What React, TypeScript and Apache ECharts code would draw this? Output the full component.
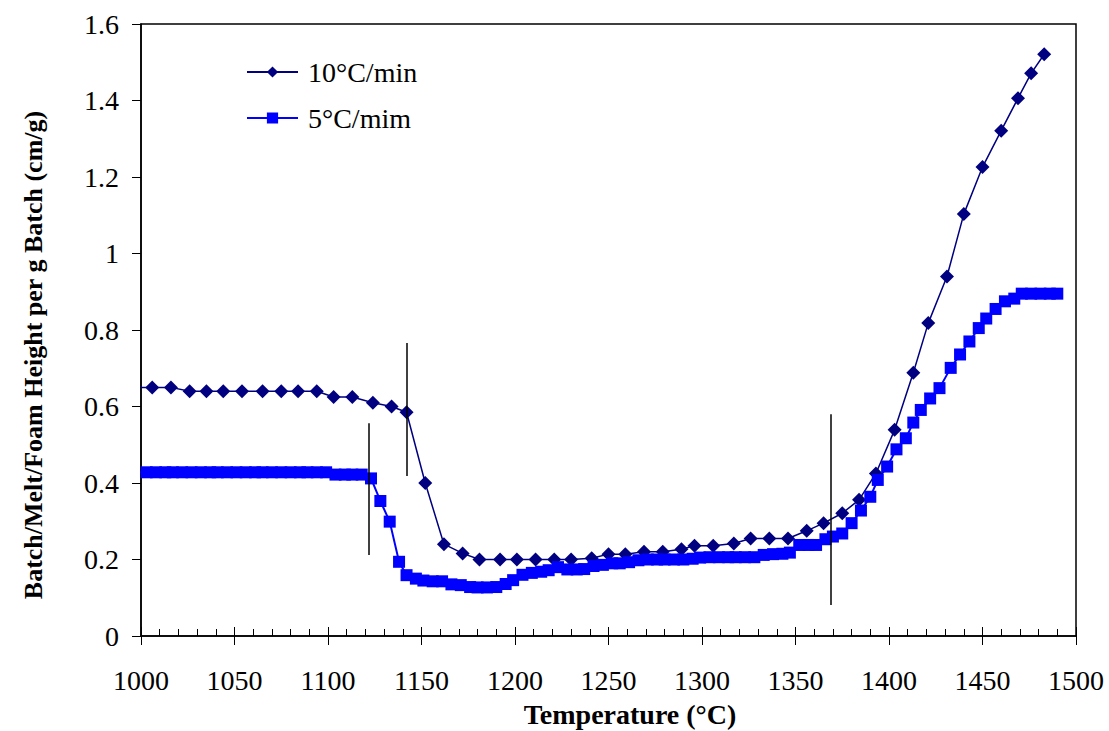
import React, { useEffect, useRef } from "react";
import * as echarts from "echarts";

// ---- data ----
const T10 = [997, 1006, 1016, 1026, 1035, 1044, 1054, 1065, 1075, 1084, 1094, 1103, 1113, 1124, 1134, 1142, 1152, 1162, 1172, 1181,
  1192, 1201, 1211, 1221, 1230, 1241, 1250, 1259, 1269, 1279, 1289, 1296, 1306, 1317, 1326, 1336, 1346, 1356, 1365, 1375,
  1384, 1393, 1403, 1413, 1421, 1431, 1440, 1450, 1460, 1469, 1476, 1483];
const V10 = [0.65, 0.65, 0.65, 0.64, 0.64, 0.64, 0.64, 0.64, 0.64, 0.64, 0.64, 0.625, 0.625, 0.61, 0.6, 0.585, 0.4, 0.24, 0.216, 0.2,
  0.2, 0.2, 0.2, 0.2, 0.2, 0.203, 0.214, 0.214, 0.22, 0.22, 0.227, 0.236, 0.236, 0.242, 0.255, 0.255, 0.255, 0.275, 0.295, 0.321,
  0.356, 0.425, 0.539, 0.688, 0.818, 0.94, 1.103, 1.226, 1.321, 1.406, 1.471, 1.521];

const T5 = [998, 1003, 1008, 1013, 1017, 1022, 1027, 1032, 1037, 1041, 1046, 1051, 1056, 1061, 1065, 1070, 1075, 1080, 1085, 1089,
  1094, 1099, 1104, 1109, 1113, 1118, 1123, 1128, 1133, 1138, 1142, 1147, 1151, 1156, 1161, 1166, 1171, 1176, 1180, 1185,
  1190, 1195, 1199, 1204, 1209, 1214, 1218, 1223, 1228, 1233, 1237, 1242, 1247, 1252, 1256, 1261, 1266, 1271, 1276, 1280,
  1285, 1290, 1295, 1299, 1304, 1309, 1314, 1318, 1323, 1328, 1333, 1338, 1343, 1347, 1352, 1357, 1361, 1366, 1370, 1375,
  1380, 1385, 1390, 1394, 1399, 1404, 1409, 1413, 1417, 1422, 1427, 1433, 1438, 1443, 1448, 1452, 1457, 1462, 1467, 1471,
  1476, 1481, 1486, 1490];
const V5 = [0.428, 0.428, 0.428, 0.428, 0.428, 0.428, 0.428, 0.428, 0.428, 0.428, 0.428, 0.428, 0.428, 0.428, 0.428, 0.428, 0.428, 0.428, 0.428, 0.428,
  0.428, 0.428, 0.422, 0.422, 0.422, 0.422, 0.412, 0.353, 0.299, 0.194, 0.159, 0.15, 0.145, 0.143, 0.143, 0.135, 0.133, 0.128, 0.127, 0.127,
  0.128, 0.136, 0.146, 0.16, 0.165, 0.168, 0.172, 0.18, 0.174, 0.174, 0.175, 0.183, 0.186, 0.19, 0.19, 0.193, 0.198, 0.2, 0.2, 0.2,
  0.2, 0.2, 0.202, 0.205, 0.206, 0.206, 0.206, 0.206, 0.206, 0.206, 0.212, 0.214, 0.215, 0.218, 0.238, 0.238, 0.238, 0.253, 0.26, 0.268,
  0.295, 0.328, 0.364, 0.408, 0.443, 0.488, 0.517, 0.558, 0.591, 0.621, 0.648, 0.701, 0.736, 0.77, 0.805, 0.83, 0.855, 0.875, 0.882, 0.895,
  0.895, 0.895, 0.895, 0.895];

const SERIES_NAMES = ["10°C/min", "5°C/mim"];
const VLINE_X = [1142, 1122, 1369];
const VLINE_TOP = [0.766, 0.556, 0.58];
const VLINE_BOTTOM = [0.418, 0.212, 0.081];

const X_TITLE = "Temperature (°C)";
const Y_TITLE = "Batch/Melt/Foam Height per g Batch (cm/g)";

const FONT = '"Liberation Serif", "Times New Roman", serif';

export default function App() {
  const ref = useRef<HTMLDivElement>(null);
  useEffect(() => {
    if (!ref.current) return;
    const chart = echarts.init(ref.current, undefined, { renderer: "svg" });
    const zip = (a: number[], b: number[]) => a.map((x, i) => [x, b[i]]);
    const xCommon = { type: "value", min: 1000, max: 1500, interval: 50, position: "bottom", splitLine: { show: false } };
    chart.setOption({
      animation: false,
      backgroundColor: "#fff",
      grid: {
        left: 141, top: 24, width: 935, height: 612,
        show: true, borderColor: "#000", borderWidth: 1.5, backgroundColor: "transparent",
        outerBoundsMode: "none", containLabel: false,
      },
      legend: {
        left: 246, top: 58, orient: "vertical", padding: 0,
        itemWidth: 51, itemHeight: 14, itemGap: 18,
        textStyle: { fontFamily: FONT, fontSize: 28, color: "#000", padding: [0, 0, 0, 5] },
        data: SERIES_NAMES,
      },
      xAxis: [
        {
          ...xCommon,
          axisLine: { show: true, lineStyle: { color: "#000", width: 1.5 } },
          axisTick: { show: true, inside: false, length: 9, lineStyle: { color: "#000", width: 1 } },
          axisLabel: { fontFamily: FONT, fontSize: 28, color: "#000", margin: 30, formatter: (v: number) => String(v) },
        },
        {
          ...xCommon,
          axisLine: { show: false },
          axisTick: { show: true, inside: true, length: 9, lineStyle: { color: "#000", width: 1 } },
          minorTick: { show: true, splitNumber: 5, length: 7, lineStyle: { color: "#000", width: 1 } },
          axisLabel: { show: false },
        },
      ],
      yAxis: {
        type: "value", min: 0, max: 1.6, interval: 0.2,
        axisLine: { show: true, lineStyle: { color: "#000", width: 1.5 } },
        axisTick: { show: true, inside: false, length: 9, lineStyle: { color: "#000", width: 1 } },
        axisLabel: {
          fontFamily: FONT, fontSize: 28, color: "#000", margin: 22,
          formatter: (v: number) => String(+v.toFixed(1)),
        },
        splitLine: { show: false },
      },
      graphic: [
        {
          type: "text", x: 630, y: 714,
          style: { text: X_TITLE, font: `bold 28px ${FONT}`, fill: "#000", align: "center", verticalAlign: "middle" },
        },
        {
          type: "text", x: 33, y: 355, rotation: Math.PI / 2,
          style: { text: Y_TITLE, font: `bold 26px ${FONT}`, fill: "#000", align: "center", verticalAlign: "middle" },
        },
      ],
      series: [
        {
          name: SERIES_NAMES[0], type: "line", xAxisIndex: 0, data: zip(T10, V10),
          symbol: "diamond", symbolSize: 14, clip: true,
          lineStyle: { color: "#000080", width: 1.5 }, itemStyle: { color: "#000080" },
          emphasis: { disabled: true },
        },
        {
          name: SERIES_NAMES[1], type: "line", xAxisIndex: 0, data: zip(T5, V5),
          symbol: "rect", symbolSize: 12, clip: true,
          lineStyle: { color: "#0000FF", width: 2 }, itemStyle: { color: "#0000FF" },
          emphasis: { disabled: true },
          markLine: {
            silent: true, symbol: ["none", "none"], label: { show: false },
            lineStyle: { color: "#000", width: 1.5, type: "solid" },
            data: VLINE_X.map((x, i) => [{ coord: [x, VLINE_TOP[i]] }, { coord: [x, VLINE_BOTTOM[i]] }]),
          },
        },
      ],
    });
    return () => chart.dispose();
  }, []);
  return <div ref={ref} style={{ position: "absolute", left: 0, top: 0, width: 1109, height: 731 }} />;
}
